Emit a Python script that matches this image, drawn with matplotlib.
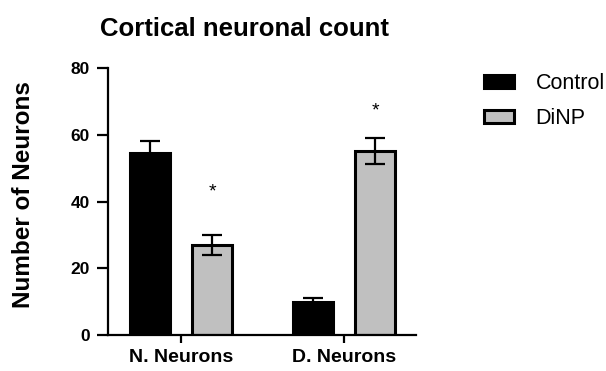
import matplotlib.pyplot as plt
import numpy as np

plt.rcParams['font.family'] = ['Liberation Sans', 'DejaVu Sans']

groups = ['N. Neurons', 'D. Neurons']
series = ['Control', 'DiNP']
means = {'Control': [54.5, 10.0], 'DiNP': [27.0, 55.2]}
sems = {'Control': [3.5, 1.0], 'DiNP': [3.0, 3.9]}
colors = {'Control': 'black', 'DiNP': '#c0c0c0'}
stars = {'Control': ['', ''], 'DiNP': ['*', '*']}
star_y = [43, 67]

fig = plt.figure(figsize=(6.06, 3.71), dpi=100)
ax = fig.add_axes([108 / 606, 36 / 371, 308 / 606, 267 / 371])

x = np.arange(len(groups))
width = 0.245
offsets = {'Control': -0.19, 'DiNP': 0.19}

handles = []
for s in series:
    pos = x + offsets[s]
    b = ax.bar(pos, means[s], width, color=colors[s], edgecolor='black',
               linewidth=2.2, zorder=2, label=s)
    ax.errorbar(pos, means[s], yerr=sems[s], fmt='none', ecolor='black',
                elinewidth=1.6, capsize=7, capthick=1.6, zorder=3)
    handles.append(b)

for i, s in enumerate(stars['DiNP']):
    if s:
        ax.text(x[i] + offsets['DiNP'], star_y[i], s, ha='center', va='center',
                fontsize=14)

ax.set_xlim(-0.448, 1.44)
ax.set_ylim(0, 80)
ax.set_yticks([0, 20, 40, 60, 80])
ax.set_xticks(x)
ax.set_xticklabels(groups)
for sp in ['top', 'right']:
    ax.spines[sp].set_visible(False)
for sp in ['left', 'bottom']:
    ax.spines[sp].set_linewidth(1.6)
ax.tick_params(axis='y', width=1.6, length=8, pad=5, labelsize=12.5)
ax.tick_params(axis='x', width=1.6, length=6, pad=4, labelsize=14)
for lab in ax.get_xticklabels() + ax.get_yticklabels():
    lab.set_fontweight('bold')

fig.text(24 / 606, 1 - 195 / 371, 'Number of Neurons', rotation=90,
         ha='center', va='center', fontsize=17.5, fontweight='bold')
fig.text(244 / 606, 1 - 29 / 371, 'Cortical neuronal count', ha='center',
         va='center', fontsize=18.5, fontweight='bold')

fig.legend(handles=handles, labels=series, loc='upper left',
           bbox_to_anchor=(484 / 606, 1 - 73 / 371), frameon=False,
           fontsize=15.5, handlelength=1.4, handleheight=0.55,
           labelspacing=0.65, handletextpad=1.0, borderpad=0, borderaxespad=0)

fig.savefig('out.png', dpi=100)
